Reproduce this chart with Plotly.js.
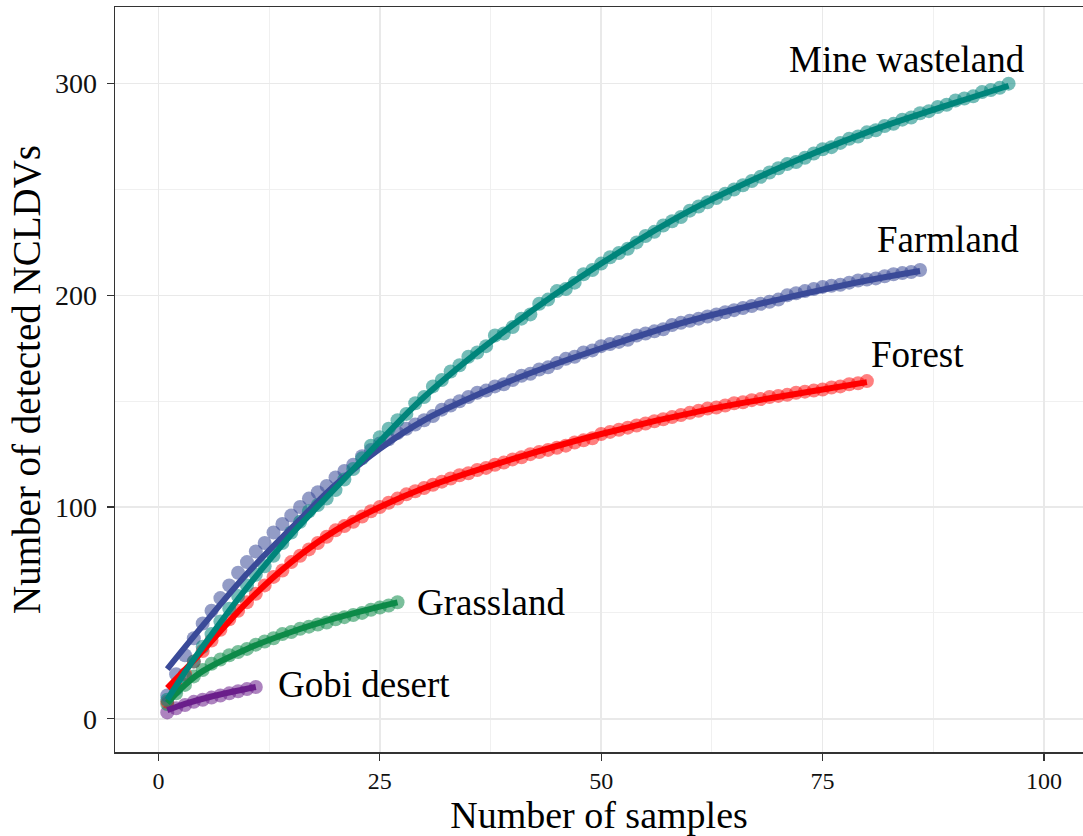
<!DOCTYPE html>
<html>
<head>
<meta charset="utf-8">
<script src="https://cdn.plot.ly/plotly-3.0.1.min.js"></script>
<style>html,body{margin:0;padding:0;background:#fff;}#chart{width:1083px;height:836px;}</style>
</head>
<body>
<div id="chart"></div>
<script>
// ---- Data ----
const seriesNames = ["Mine wasteland", "Farmland", "Forest", "Grassland", "Gobi desert"];

const mineWasteland = [9,14,20,27,34,40,46,52,58,63,
  68,72,77,83,88,93,98,101,104,108,
  113,118,123,129,133,137,141,144,149,152,
  157,160,164,167,171,173,176,181,182,185,
  189,191,196,198,202,203,206,210,212,215,
  218,220,222,225,228,230,233,235,237,240,
  242,244,246,248,250,252,254,256,258,260,
  262,263,265,267,269,270,272,274,275,277,
  278,280,281,283,284,286,287,289,290,292,
  293,294,296,297,298,300];

const farmland = [11,21,30,38,45,51,57,63,69,74,
  79,83,88,92,96,100,104,107,110,114,
  117,120,124,127,130,132,135,137,139,141,
  143,146,148,150,152,154,155,157,158,160,
  162,163,165,166,168,170,171,173,174,176,
  177,178,179,181,182,183,184,186,187,188,
  189,190,191,192,193,194,195,196,197,198,
  200,201,202,203,204,204.5,205,206,207,207.5,
  208,209,210,210.5,211,212];

const forest = [8,15,21,27,32,37,42,47,51,55,
  59,63,67,70,74,77,80,83,86,89,
  91,93,95.5,98,100,102,104,106,107.5,109,
  110.5,112,113.5,115,116,117.5,118.5,120,121,122.5,
  123.5,125,126,127,128,129,130.5,131.5,132.5,134.5,
  135.5,136.5,137.5,138.5,139.5,140.5,141.5,142.5,143.5,144.5,
  145.5,146.5,147,148,149,149.5,150.5,151,152,152.5,
  153,154,154.5,155,155.5,156.5,157,158,158.5,159.5];

const grassland = [7,12,16,20,23,26,28,30,31.5,33,
  35,36.5,38,40,41,42.5,43.5,44.5,45.5,47,
  48,49,50,51.5,52.5,53.5,55];

const gobiDesert = [3,5,6.5,8,9,10,11,12,13,14,15];

// fitted curves (read at a few sample counts)
const mineFitX = [1,3,5,10,15,20,25,30,40,50,60,70,80,90,96];
const mineFitY = [9,22,34,62,87,109,131,152,186,215,240,260,277,291,299];
const farmFitX = [1,5,10,15,20,25,30,40,50,60,70,80,86];
const farmFitY = [23.5,44,68.5,90,110.5,127.5,141,160,175,188,198,207,211.5];
const forestFitX = [1,5,10,15,20,25,30,37.5,50,62.5,75,80];
const forestFitY = [14.5,32,55,74,89,100,109,119.5,134.5,146.5,155.5,159];
const grassFitX = [1,3,5,10,15,20,25,27];
const grassFitY = [7.5,16,22.5,33,41,47.5,53,55];
const gobiFitX = [1,3,6,11];
const gobiFitY = [4,7,10.5,15];

const xTickVals = [0,25,50,75,100];
const yTickVals = [0,100,200,300];

// ---- Styles ----
const lineColors = ["#00857b", "#3a4a98", "#ff0000", "#0d8a48", "#6a1e8a"];
const pointColors = ["rgba(0,133,123,0.55)", "rgba(58,74,152,0.55)", "rgba(255,0,0,0.5)", "rgba(13,138,72,0.55)", "rgba(106,30,138,0.55)"];

const pointSeries = [mineWasteland, farmland, forest, grassland, gobiDesert];
const fitX = [mineFitX, farmFitX, forestFitX, grassFitX, gobiFitX];
const fitY = [mineFitY, farmFitY, forestFitY, grassFitY, gobiFitY];

const traces = [];
for (let k = pointSeries.length - 1; k >= 0; k--) {
  const ys = pointSeries[k];
  traces.push({
    type: "scatter", mode: "markers",
    x: ys.map((_, i) => i + 1), y: ys,
    marker: {size: 14, color: pointColors[k], line: {width: 0}},
    name: seriesNames[k], showlegend: false, hoverinfo: "x+y"
  });
}
for (let k = pointSeries.length - 1; k >= 0; k--) {
  traces.push({
    type: "scatter", mode: "lines",
    x: fitX[k], y: fitY[k],
    line: {color: lineColors[k], width: 6, shape: "spline", smoothing: 1},
    name: seriesNames[k] + " fit", showlegend: false, hoverinfo: "skip"
  });
}

const serif = "Liberation Serif, Times New Roman, serif";
const labelFont = {family: serif, size: 37, color: "#000"};
const annotations = [
  {x: 84.5, y: 311.5, text: "Mine wasteland", xanchor: "center", yanchor: "middle"},
  {x: 89.2, y: 226.5, text: "Farmland", xanchor: "center", yanchor: "middle"},
  {x: 85.7, y: 172, text: "Forest", xanchor: "center", yanchor: "middle"},
  {x: 29.0, y: 54.8, text: "Grassland", xanchor: "left", yanchor: "middle"},
  {x: 13.3, y: 16.1, text: "Gobi desert", xanchor: "left", yanchor: "middle"}
].map(a => Object.assign({xref: "x", yref: "y", showarrow: false, font: labelFont}, a));

const titleFont = {family: serif, size: 38, color: "#000"};

const layout = {
  width: 1083, height: 836,
  margin: {l: 115, r: 0, t: 7, b: 84},
  paper_bgcolor: "#fff", plot_bgcolor: "#fff",
  showlegend: false,
  xaxis: {
    range: [-4.9, 104.4],
    tickvals: xTickVals, ticktext: xTickVals.map(String),
    showgrid: true, gridcolor: "#e9e9e9", gridwidth: 1.5,
    minor: {dtick: 12.5, tick0: 0, showgrid: true, gridcolor: "#f0f0f0", gridwidth: 1, ticks: ""},
    zeroline: false,
    showline: true, linecolor: "#333", linewidth: 1.5, mirror: true,
    ticks: "outside", ticklen: 7, tickwidth: 1.3, tickcolor: "#333",
    tickfont: {family: serif, size: 24, color: "#111"},
    title: {text: "Number of samples", font: titleFont, standoff: 5}
  },
  yaxis: {
    range: [-15.7, 336.2],
    tickvals: yTickVals, ticktext: yTickVals.map(String),
    showgrid: true, gridcolor: "#e9e9e9", gridwidth: 1.5,
    minor: {dtick: 50, tick0: 0, showgrid: true, gridcolor: "#f0f0f0", gridwidth: 1, ticks: ""},
    zeroline: false,
    showline: true, linecolor: "#333", linewidth: 1.5, mirror: false,
    ticks: "outside", ticklen: 7, tickwidth: 1.3, tickcolor: "#333",
    ticklabelstandoff: 4,
    tickfont: {family: serif, size: 28, color: "#111"},
    title: {text: "Number of detected NCLDVs", font: {family: serif, size: 39, color: "#000"}, standoff: 2}
  },
  annotations: annotations
};

Plotly.newPlot("chart", traces, layout, {displayModeBar: false, staticPlot: true});
</script>
</body>
</html>
